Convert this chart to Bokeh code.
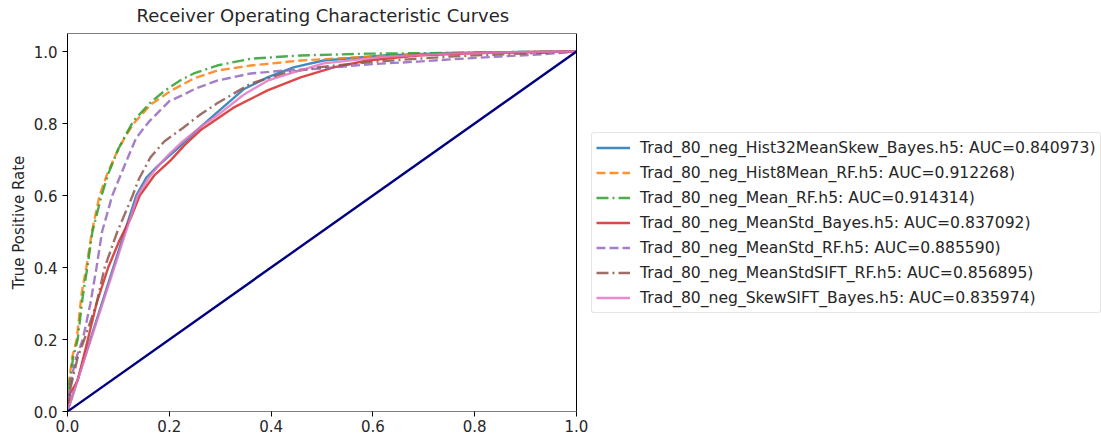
from bokeh.plotting import figure
from bokeh.models import Legend, LegendItem, FixedTicker, Range1d, BoxAnnotation, Title
from bokeh.embed import file_html
from bokeh.resources import INLINE

# ---- data ----
names = [
    "Trad_80_neg_Hist32MeanSkew_Bayes.h5",
    "Trad_80_neg_Hist8Mean_RF.h5",
    "Trad_80_neg_Mean_RF.h5",
    "Trad_80_neg_MeanStd_Bayes.h5",
    "Trad_80_neg_MeanStd_RF.h5",
    "Trad_80_neg_MeanStdSIFT_RF.h5",
    "Trad_80_neg_SkewSIFT_Bayes.h5",
]
aucs = ["0.840973", "0.912268", "0.914314", "0.837092", "0.885590", "0.856895", "0.835974"]

fpr_hist32 = [0, 0.135, 0.155, 0.176, 0.216, 0.261, 0.294, 0.346, 0.393, 0.444, 0.503, 0.621, 0.75, 0.9, 1.0]
tpr_hist32 = [0, 0.60, 0.65, 0.68, 0.73, 0.79, 0.831, 0.895, 0.928, 0.956, 0.975, 0.989, 0.996, 0.999, 1.0]

fpr_hist8 = [0, 0.003, 0.009, 0.018, 0.028, 0.037, 0.048, 0.063, 0.078, 0.097, 0.112, 0.13, 0.163, 0.202, 0.248, 0.294, 0.36, 0.458, 0.556, 0.654, 0.752, 0.9, 1.0]
tpr_hist8 = [0, 0.08, 0.15, 0.20, 0.33, 0.40, 0.50, 0.60, 0.66, 0.72, 0.76, 0.80, 0.852, 0.89, 0.925, 0.947, 0.961, 0.975, 0.983, 0.989, 0.994, 0.998, 1.0]

fpr_mean = [0, 0.004, 0.011, 0.02, 0.03, 0.039, 0.049, 0.067, 0.08, 0.10, 0.115, 0.13, 0.163, 0.19, 0.222, 0.248, 0.294, 0.36, 0.458, 0.589, 0.752, 0.9, 1.0]
tpr_mean = [0, 0.08, 0.15, 0.20, 0.32, 0.40, 0.50, 0.60, 0.66, 0.73, 0.77, 0.808, 0.858, 0.89, 0.92, 0.939, 0.961, 0.98, 0.989, 0.994, 0.996, 0.999, 1.0]

fpr_meanstd_bayes = [0, 0.005, 0.02, 0.04, 0.057, 0.08, 0.102, 0.125, 0.142, 0.17, 0.202, 0.23, 0.261, 0.326, 0.393, 0.458, 0.523, 0.589, 0.688, 0.8, 1.0]
tpr_meanstd_bayes = [0, 0.05, 0.086, 0.20, 0.30, 0.40, 0.475, 0.54, 0.60, 0.655, 0.697, 0.74, 0.781, 0.844, 0.892, 0.928, 0.956, 0.975, 0.989, 0.996, 1.0]

fpr_meanstd_rf = [0, 0.005, 0.015, 0.03, 0.045, 0.057, 0.068, 0.088, 0.117, 0.135, 0.16, 0.20, 0.228, 0.25, 0.294, 0.36, 0.425, 0.50, 0.589, 0.688, 0.752, 0.85, 0.95, 1.0]
tpr_meanstd_rf = [0, 0.07, 0.14, 0.20, 0.30, 0.40, 0.50, 0.60, 0.70, 0.76, 0.805, 0.862, 0.88, 0.896, 0.919, 0.939, 0.947, 0.953, 0.964, 0.972, 0.978, 0.986, 0.994, 1.0]

fpr_meanstdsift = [0, 0.005, 0.02, 0.033, 0.057, 0.073, 0.098, 0.128, 0.14, 0.163, 0.19, 0.228, 0.261, 0.294, 0.36, 0.425, 0.491, 0.589, 0.688, 0.752, 0.85, 1.0]
tpr_meanstdsift = [0, 0.06, 0.15, 0.20, 0.30, 0.40, 0.50, 0.60, 0.645, 0.706, 0.75, 0.789, 0.825, 0.856, 0.911, 0.939, 0.956, 0.97, 0.98, 0.986, 0.992, 1.0]

fpr_skewsift = [0, 0.138, 0.16, 0.18, 0.20, 0.222, 0.261, 0.294, 0.346, 0.393, 0.444, 0.503, 0.621, 0.75, 0.9, 1.0]
tpr_skewsift = [0, 0.60, 0.65, 0.685, 0.715, 0.745, 0.79, 0.822, 0.88, 0.919, 0.942, 0.967, 0.985, 0.994, 0.999, 1.0]

chance_x = [0, 1]
chance_y = [0, 1]

x_ticks = [0, 0.2, 0.4, 0.6, 0.8, 1.0]
y_ticks = [0, 0.2, 0.4, 0.6, 0.8, 1.0]
tick_labels = ["0.0", "0.2", "0.4", "0.6", "0.8", "1.0"]
x_lim = [0, 1.0]
y_lim = [0, 1.05]

series = [
    (fpr_hist32, tpr_hist32, "#1f77b4", "solid"),
    (fpr_hist8, tpr_hist8, "#ff7f0e", "9 4"),
    (fpr_mean, tpr_mean, "#2ca02c", "12 4 2 4"),
    (fpr_meanstd_bayes, tpr_meanstd_bayes, "#d62728", "solid"),
    (fpr_meanstd_rf, tpr_meanstd_rf, "#9467bd", "9 4"),
    (fpr_meanstdsift, tpr_meanstdsift, "#8c564b", "12 4 2 4"),
    (fpr_skewsift, tpr_skewsift, "#e377c2", "solid"),
]

FONT = "DejaVu Sans"
TXT = "#262626"

# The plotting box is 509 px wide (x 0..1); the frame extends to the right
# edge of the page so that the legend can sit to the right of the box.
BOX_W = 509
FRAME_W = 1034

p = figure(
    frame_width=FRAME_W, frame_height=378,
    min_border_left=67, min_border_right=0, min_border_top=33, min_border_bottom=28,
    x_range=Range1d(0, FRAME_W / BOX_W), y_range=Range1d(*y_lim),
    output_backend="svg", toolbar_location=None,
    title=None,
)

# small spacer next to the frame, then the real title above it
p.add_layout(Title(text=" ", text_font_size="6px", standoff=0), "above")
p.add_layout(Title(text="Receiver Operating Characteristic Curves", align="left", offset=69,
                   text_font=FONT, text_font_size="18px", text_font_style="normal",
                   text_color=TXT, standoff=0), "above")

p.grid.visible = False
p.outline_line_color = None
p.background_fill_color = "white"
p.border_fill_color = "white"

for ax, ticks in ((p.xaxis, x_ticks), (p.yaxis, y_ticks)):
    ax.ticker = FixedTicker(ticks=ticks)
    ax.major_label_overrides = {t: l for t, l in zip(ticks, tick_labels)}
    ax.major_label_text_font = FONT
    ax.major_label_text_font_size = "15px"
    ax.major_label_text_color = TXT
    ax.major_tick_out = 5
    ax.major_tick_in = 0
    ax.minor_tick_out = 0
    ax.minor_tick_in = 0
    ax.major_tick_line_color = "black"

p.xaxis.axis_line_color = None
p.yaxis.axis_line_color = "black"
p.xaxis.major_label_standoff = 3
p.yaxis.major_label_standoff = 5

p.yaxis.axis_label = "True Positive Rate"
p.yaxis.axis_label_text_font = FONT
p.yaxis.axis_label_text_font_size = "15px"
p.yaxis.axis_label_text_font_style = "normal"
p.yaxis.axis_label_text_color = TXT
p.yaxis.axis_label_standoff = 3

items = []
for (xs, ys, col, dash), nm, auc in zip(series, names, aucs):
    r = p.line(xs, ys, line_color=col, line_width=2.4, line_dash=dash, line_alpha=0.85)
    items.append(LegendItem(label=f"{nm}: AUC={auc})", renderers=[r]))

p.line(chance_x, chance_y, line_color="#000080", line_width=2.4)

# axes box (spines) around the 0..1 region
p.add_layout(BoxAnnotation(left=x_lim[0], right=x_lim[1], bottom=y_lim[0], top=y_lim[1],
                           fill_alpha=0, line_color="black", line_alpha=1, line_width=1))

legend = Legend(
    items=items,
    location=(BOX_W + 15, 98),
    label_text_font=FONT,
    label_text_font_size="15.6px",
    label_text_color=TXT,
    glyph_width=34,
    glyph_height=21,
    label_height=21,
    label_standoff=10,
    spacing=4,
    padding=4,
    margin=0,
    border_line_color="#cccccc",
    border_line_width=1,
    border_radius=3,
    background_fill_alpha=1.0,
)
p.add_layout(legend, "center")

open("out.html", "w").write(file_html(p, INLINE))
